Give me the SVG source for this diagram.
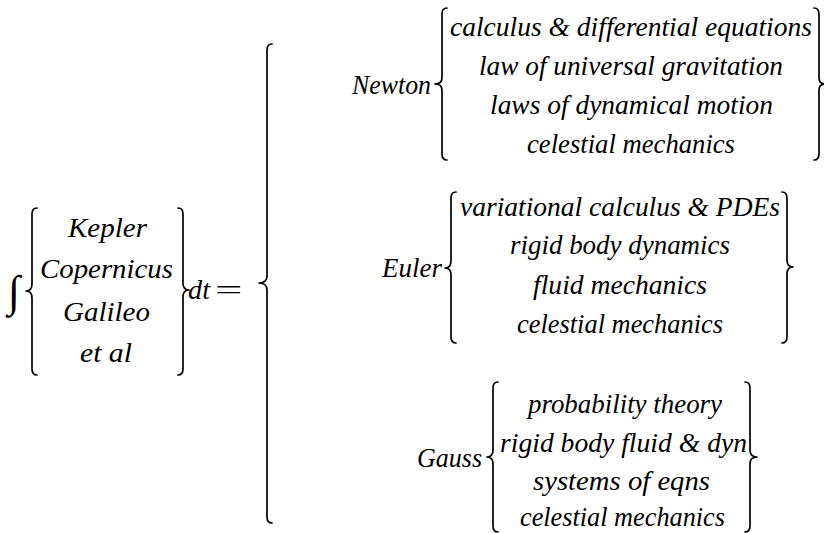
<svg xmlns="http://www.w3.org/2000/svg" width="824" height="533" viewBox="0 0 824 533">
<style>
text{font-family:'Liberation Serif','Times New Roman',serif;font-style:italic;font-size:27px;fill:#000}
.up{font-style:normal}
.br{fill:none;stroke:#000;stroke-width:1.7;stroke-linecap:round;stroke-linejoin:round}
</style>
<rect width="824" height="533" fill="#fff"/>
<g id="connectors">
<path class="br" d="M37,208 Q32,208 32,214 L32,284 Q32,291 26,291 Q32,291 32,298 L32,369 Q32,375 37,375"/>
<path class="br" d="M178,208 Q183,208 183,214 L183,283 Q183,290 189,290 Q183,290 183,297 L183,369 Q183,375 178,375"/>
<path class="br" d="M272,44 Q267,44 267,50 L267,276 Q267,283 259,283 Q267,283 267,290 L267,517 Q267,523 272,523"/>
<path class="br" d="M447,8 Q442,8 442,14 L442,78 Q442,84 435,84 Q442,84 442,90 L442,154 Q442,160 447,160"/>
<path class="br" d="M814,8 Q819,8 819,14 L819,78 Q819,84 825,84 Q819,84 819,90 L819,154 Q819,160 814,160"/>
<path class="br" d="M456,192 Q451,192 451,198 L451,261 Q451,268 445,268 Q451,268 451,275 L451,337 Q451,343 456,343"/>
<path class="br" d="M782,192 Q787,192 787,198 L787,260 Q787,267 793,267 Q787,267 787,274 L787,337 Q787,343 782,343"/>
<path class="br" d="M498,382 Q493,382 493,388 L493,450 Q493,457 487,457 Q493,457 493,464 L493,526 Q493,532 498,532"/>
<path class="br" d="M745,382 Q750,382 750,388 L750,450 Q750,457 757,457 Q750,457 750,464 L750,526 Q750,532 745,532"/>
</g>
<g id="lhs">
<text class="up" x="8" y="306" style="font-size:44px">∫</text>
<text x="68" y="237" textLength="79" lengthAdjust="spacingAndGlyphs">Kepler</text>
<text x="40" y="278" textLength="133" lengthAdjust="spacingAndGlyphs">Copernicus</text>
<text x="63" y="321" textLength="87" lengthAdjust="spacingAndGlyphs">Galileo</text>
<text x="80" y="362" textLength="52" lengthAdjust="spacingAndGlyphs">et al</text>
<text x="188" y="299" textLength="22" lengthAdjust="spacingAndGlyphs">dt</text>
<text class="up" transform="translate(215,299) scale(1.8,1)">=</text>
</g>
<g id="newton">
<text x="352" y="94" textLength="79" lengthAdjust="spacingAndGlyphs">Newton</text>
<text x="450" y="36" textLength="362" lengthAdjust="spacingAndGlyphs">calculus &amp; differential equations</text>
<text x="479" y="75" textLength="304" lengthAdjust="spacingAndGlyphs">law of universal gravitation</text>
<text x="490" y="114" textLength="283" lengthAdjust="spacingAndGlyphs">laws of dynamical motion</text>
<text x="527" y="153" textLength="208" lengthAdjust="spacingAndGlyphs">celestial mechanics</text>
</g>
<g id="euler">
<text x="382" y="277" textLength="60" lengthAdjust="spacingAndGlyphs">Euler</text>
<text x="460" y="216" textLength="320" lengthAdjust="spacingAndGlyphs">variational calculus &amp; PDEs</text>
<text x="510" y="254" textLength="220" lengthAdjust="spacingAndGlyphs">rigid body dynamics</text>
<text x="533" y="294" textLength="174" lengthAdjust="spacingAndGlyphs">fluid mechanics</text>
<text x="517" y="333" textLength="206" lengthAdjust="spacingAndGlyphs">celestial mechanics</text>
</g>
<g id="gauss">
<text x="417" y="467" textLength="65" lengthAdjust="spacingAndGlyphs">Gauss</text>
<text x="528" y="413" textLength="194" lengthAdjust="spacingAndGlyphs">probability theory</text>
<text x="500" y="452" textLength="247" lengthAdjust="spacingAndGlyphs">rigid body fluid &amp; dyn</text>
<text x="533" y="490" textLength="177" lengthAdjust="spacingAndGlyphs">systems of eqns</text>
<text x="520" y="526" textLength="205" lengthAdjust="spacingAndGlyphs">celestial mechanics</text>
</g>
</svg>
